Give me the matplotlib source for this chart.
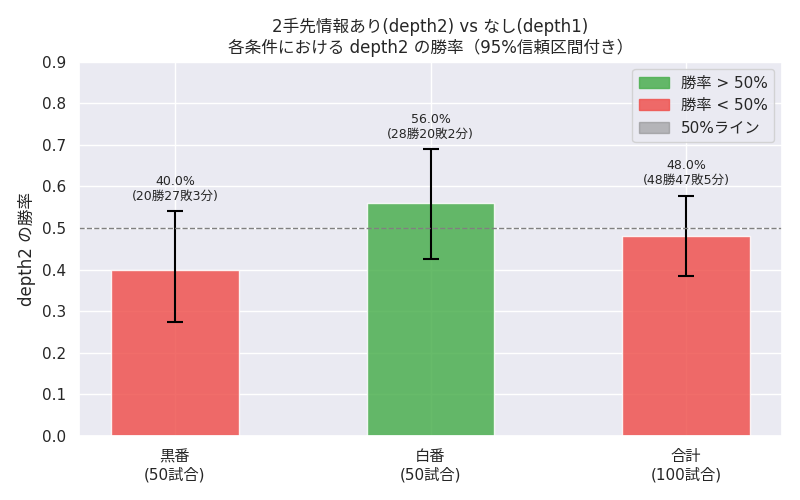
import matplotlib
matplotlib.use("Agg")
import matplotlib.pyplot as plt
import seaborn as sns
from matplotlib.patches import Patch

sns.set_theme(style="darkgrid")
plt.rcParams['font.family'] = ['DejaVu Sans', 'Noto Sans CJK JP']

# データ
labels = ['黒番\n(50試合)', '白番\n(50試合)', '合計\n(100試合)']
win_rate = [0.40, 0.56, 0.48]
ci_low = [0.275, 0.425, 0.385]
ci_high = [0.54, 0.69, 0.578]
records = ['(20勝27敗3分)', '(28勝20敗2分)', '(48勝47敗5分)']

green = '#4CAF50'
red = '#EF5350'
colors = [green if r > 0.5 else red for r in win_rate]

err_low = [r - lo for r, lo in zip(win_rate, ci_low)]
err_high = [hi - r for r, hi in zip(win_rate, ci_high)]

fig, ax = plt.subplots(figsize=(8, 5), dpi=100)
x = range(len(labels))
ax.bar(x, win_rate, width=0.5, color=colors, alpha=0.85,
       yerr=[err_low, err_high], capsize=6, ecolor='black',
       error_kw={'elinewidth': 1.5, 'capthick': 1.5})
ax.axhline(0.5, color='gray', linestyle='--', linewidth=1)

for i in x:
    ax.text(i, ci_high[i] + 0.02, f'{win_rate[i]*100:.1f}%\n{records[i]}',
            ha='center', va='bottom', fontsize=9)

ax.set_xticks(list(x))
ax.set_xticklabels(labels)
ax.set_ylim(0, 0.9)
ax.set_ylabel('depth2 の勝率')
ax.set_title('2手先情報あり(depth2) vs なし(depth1)\n各条件における depth2 の勝率（95%信頼区間付き）',
             fontsize=12)

handles = [Patch(color=green, alpha=0.85, label='勝率 > 50%'),
           Patch(color=red, alpha=0.85, label='勝率 < 50%'),
           Patch(color='gray', alpha=0.5, label='50%ライン')]
ax.legend(handles=handles, loc='upper right')

plt.tight_layout()
plt.savefig('out.png')
